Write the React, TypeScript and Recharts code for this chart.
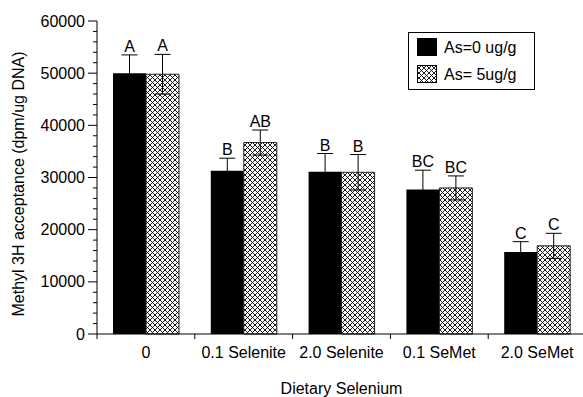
import React from "react";
import { BarChart, Bar, XAxis, YAxis, ErrorBar, LabelList } from "recharts";

// Dietary selenium groups
const categories = ["0", "0.1 Selenite", "2.0 Selenite", "0.1 SeMet", "2.0 SeMet"];
// As = 0 ug/g
const as0Values = [50000, 31300, 31100, 27700, 15700];
const as0Errors = [3500, 2400, 3500, 3700, 2000];
const as0Letters = ["A", "B", "B", "BC", "C"];
// As = 5 ug/g
const as5Values = [49800, 36700, 31000, 28000, 16900];
const as5Errors = [3800, 2400, 3400, 2300, 2400];
const as5Letters = ["A", "AB", "B", "BC", "C"];

const yTicks = Array.from({ length: 31 }, (_, i) => i * 2000);

const data = categories.map((name, i) => ({
  name,
  as0: as0Values[i],
  as0Err: as0Errors[i],
  as0Lbl: as0Letters[i],
  as5: as5Values[i],
  as5Err: as5Errors[i],
  as5Lbl: as5Letters[i],
}));

const FONT = "'Liberation Sans', Arial, sans-serif";
const BAND = 97.8;

const makeLetter = (errKey: string, lblKey: string) => (props: any) => {
  const { x, y, width, height, index } = props;
  const row: any = data[index];
  const v = lblKey === "as0Lbl" ? row.as0 : row.as5;
  const pxPerUnit = height / v;
  const top = y - row[errKey] * pxPerUnit;
  return (
    <text x={x + width / 2} y={top - 3} textAnchor="middle" fontSize={16} fontFamily={FONT} fill="#000">
      {row[lblKey]}
    </text>
  );
};

const YTick = (props: any) => {
  const { x, y, payload } = props;
  const major = payload.value % 10000 === 0;
  return (
    <g>
      <line x1={x + (major ? -9 : -4)} x2={x} y1={y} y2={y} stroke="#000" />
      {major && (
        <text x={x - 12} y={y} dy={5.5} textAnchor="end" fontSize={16} fontFamily={FONT} fill="#000">
          {payload.value}
        </text>
      )}
    </g>
  );
};

const XTick = (props: any) => {
  const { x, y, payload, index } = props;
  return (
    <g>
      <line x1={x - BAND / 2} x2={x - BAND / 2} y1={y} y2={y + 5} stroke="#000" />
      {index === categories.length - 1 && (
        <line x1={x + BAND / 2} x2={x + BAND / 2} y1={y} y2={y + 5} stroke="#000" />
      )}
      <text x={x} y={y + 24} textAnchor="middle" fontSize={16} fontFamily={FONT} fill="#000">
        {payload.value}
      </text>
    </g>
  );
};

function LegendBox() {
  return (
    <div
      style={{
        position: "absolute",
        left: 408,
        top: 32,
        width: 125,
        height: 56,
        border: "1px solid #000",
        background: "#fff",
      }}
    >
      <svg width={125} height={56} style={{ position: "absolute", left: 0, top: 0 }}>
        <defs>
          <pattern id="hatchLeg" width="5" height="5" patternUnits="userSpaceOnUse">
            <rect width="5" height="5" fill="#fff" />
            <path d="M0,0 L5,5 M5,0 L0,5" stroke="#000" strokeWidth="0.9" />
          </pattern>
        </defs>
        <rect x={8} y={5} width={20} height={18} fill="#000" />
        <rect x={8.5} y={32.5} width={19} height={17} fill="url(#hatchLeg)" stroke="#000" />
        <text x={35} y={20} fontSize={16} fontFamily={FONT}>As=0 ug/g</text>
        <text x={35} y={47} fontSize={16} fontFamily={FONT}>As= 5ug/g</text>
      </svg>
    </div>
  );
}

export default function App() {
  return (
    <div style={{ position: "absolute", left: 0, top: 0, width: 583, height: 397, overflow: "hidden", background: "#fff" }}>
      <BarChart
        width={590}
        height={397}
        data={data}
        margin={{ top: 21, right: 4, left: 0, bottom: 0 }}
        barCategoryGap={16}
        barGap={0}
      >
        <defs>
          <pattern id="hatch" width="5" height="5" patternUnits="userSpaceOnUse">
            <rect width="5" height="5" fill="#fff" />
            <path d="M0,0 L5,5 M5,0 L0,5" stroke="#000" strokeWidth="0.9" />
          </pattern>
        </defs>
        <XAxis
          dataKey="name"
          height={63}
          tickLine={false}
          tickSize={0}
          tickMargin={0}
          axisLine={{ stroke: "#000" }}
          tick={<XTick />}
          interval={0}
          label={{
            value: "Dietary Selenium",
            position: "insideBottom",
            offset: 3,
            fontSize: 16,
            fontFamily: FONT,
            fill: "#000",
          }}
        />
        <YAxis
          width={97}
          domain={[0, 60000]}
          ticks={yTicks}
          interval={0}
          tickLine={false}
          tickSize={0}
          tickMargin={0}
          axisLine={{ stroke: "#000" }}
          tick={<YTick />}
          label={{
            content: () => (
              <text
                transform="translate(24,184) rotate(-90)"
                textAnchor="middle"
                fontSize={16}
                fontFamily={FONT}
                fill="#000"
              >
                Methyl 3H acceptance (dpm/ug DNA)
              </text>
            ),
          }}
        />
        <Bar dataKey="as0" fill="#000" isAnimationActive={false}>
          <ErrorBar dataKey="as0Err" width={8} stroke="#000" strokeWidth={1} direction="y" />
          <LabelList dataKey="as0Lbl" content={makeLetter("as0Err", "as0Lbl")} />
        </Bar>
        <Bar dataKey="as5" fill="url(#hatch)" stroke="#222" strokeWidth={1} isAnimationActive={false}>
          <ErrorBar dataKey="as5Err" width={8} stroke="#000" strokeWidth={1} direction="y" />
          <LabelList dataKey="as5Lbl" content={makeLetter("as5Err", "as5Lbl")} />
        </Bar>
      </BarChart>
      <LegendBox />
    </div>
  );
}
